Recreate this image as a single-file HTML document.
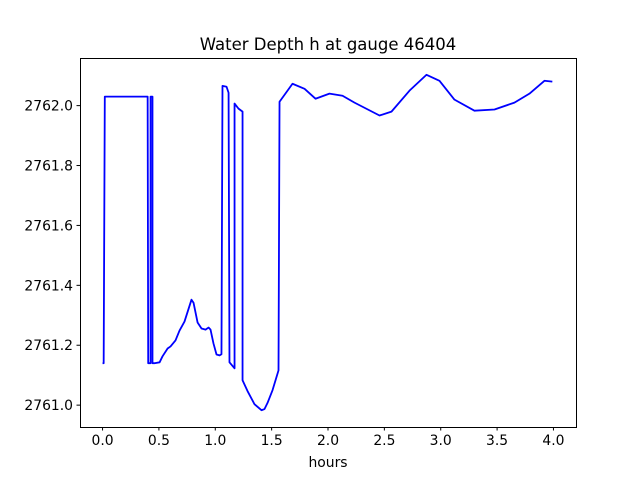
<!DOCTYPE html>
<html><head><meta charset="utf-8"><style>
body{margin:0;background:#fff;}
svg text{font-family:"DejaVu Sans","Liberation Sans",sans-serif;fill:#000;}
</style></head><body>
<svg id="chart" width="640" height="480" xmlns="http://www.w3.org/2000/svg">
<rect width="640" height="480" fill="#fff"/>
<text x="328" y="50" font-size="16.5" text-anchor="middle">Water Depth h at gauge 46404</text>
<g id="xticks"></g>
<g id="yticks"></g>
<polyline id="series" fill="none" stroke="#0000ff" stroke-width="1.8" stroke-linejoin="round"/>
<rect x="80.5" y="58.5" width="496" height="369" fill="none" stroke="#000" stroke-width="1"/>
<text x="328" y="467" font-size="13.9" text-anchor="middle">hours</text>
</svg>
<script>
const hours=[0,0.01,0.02,0.40,0.405,0.426,0.426,0.443,0.443,0.46,0.506,0.532,0.577,0.603,0.647,0.683,0.727,0.772,0.789,0.807,0.843,0.878,0.914,0.94,0.958,0.984,1.011,1.038,1.055,1.064,1.10,1.118,1.126,1.171,1.171,1.206,1.242,1.242,1.286,1.348,1.41,1.437,1.463,1.508,1.561,1.57,1.685,1.792,1.889,2.013,2.129,2.235,2.457,2.563,2.723,2.874,2.989,3.122,3.299,3.477,3.654,3.787,3.92,3.99];
const depth=[2761.14,2761.14,2762.03,2762.03,2761.14,2761.14,2762.03,2762.03,2761.14,2761.14,2761.143,2761.163,2761.189,2761.196,2761.216,2761.249,2761.279,2761.332,2761.352,2761.342,2761.276,2761.256,2761.252,2761.259,2761.252,2761.206,2761.169,2761.166,2761.17,2762.066,2762.063,2762.043,2761.143,2761.123,2762.007,2761.99,2761.98,2761.083,2761.047,2761.003,2760.983,2760.987,2761.007,2761.05,2761.116,2762.013,2762.073,2762.056,2762.023,2762.04,2762.033,2762.01,2761.967,2761.98,2762.05,2762.103,2762.083,2762.02,2761.983,2761.987,2762.01,2762.04,2762.083,2762.08];
const xTickLabels=["0.0","0.5","1.0","1.5","2.0","2.5","3.0","3.5","4.0"];
const yTickLabels=["2761.0","2761.2","2761.4","2761.6","2761.8","2762.0"];
const X0=80,X1=576,Y0=427,Y1=58,xmin=-0.2,xmax=4.2,ymin=2760.927,ymax=2762.159;
function sx(v){return X0+(v-xmin)/(xmax-xmin)*(X1-X0);}
function sy(v){return Y0-(v-ymin)/(ymax-ymin)*(Y0-Y1);}
const NS="http://www.w3.org/2000/svg";
document.getElementById('series').setAttribute('points',hours.map((t,i)=>sx(t).toFixed(2)+','+sy(depth[i]).toFixed(2)).join(' '));
const gx=document.getElementById('xticks');
xTickLabels.forEach(l=>{const x=sx(parseFloat(l));
 const ln=document.createElementNS(NS,'line');
 
 
 ln.setAttribute('x1',x);ln.setAttribute('x2',x);ln.setAttribute('y1',427);ln.setAttribute('y2',430.5);ln.setAttribute('stroke','#000');gx.appendChild(ln);
 const t=document.createElementNS(NS,'text');
 
 
 t.setAttribute('x',x);t.setAttribute('y',445);t.setAttribute('font-size','13.9');t.setAttribute('text-anchor','middle');t.textContent=l;gx.appendChild(t);});
const gy=document.getElementById('yticks');
yTickLabels.forEach(l=>{const y=sy(parseFloat(l));
 const ln=document.createElementNS(NS,'line');
 
 
 ln.setAttribute('x1',76.5);ln.setAttribute('x2',80);ln.setAttribute('y1',y);ln.setAttribute('y2',y);ln.setAttribute('stroke','#000');gy.appendChild(ln);
 const t=document.createElementNS(NS,'text');
 
 
 t.setAttribute('x',73);t.setAttribute('y',y+5);t.setAttribute('font-size','13.9');t.setAttribute('text-anchor','end');t.textContent=l;gy.appendChild(t);});
</script>
</body></html>
